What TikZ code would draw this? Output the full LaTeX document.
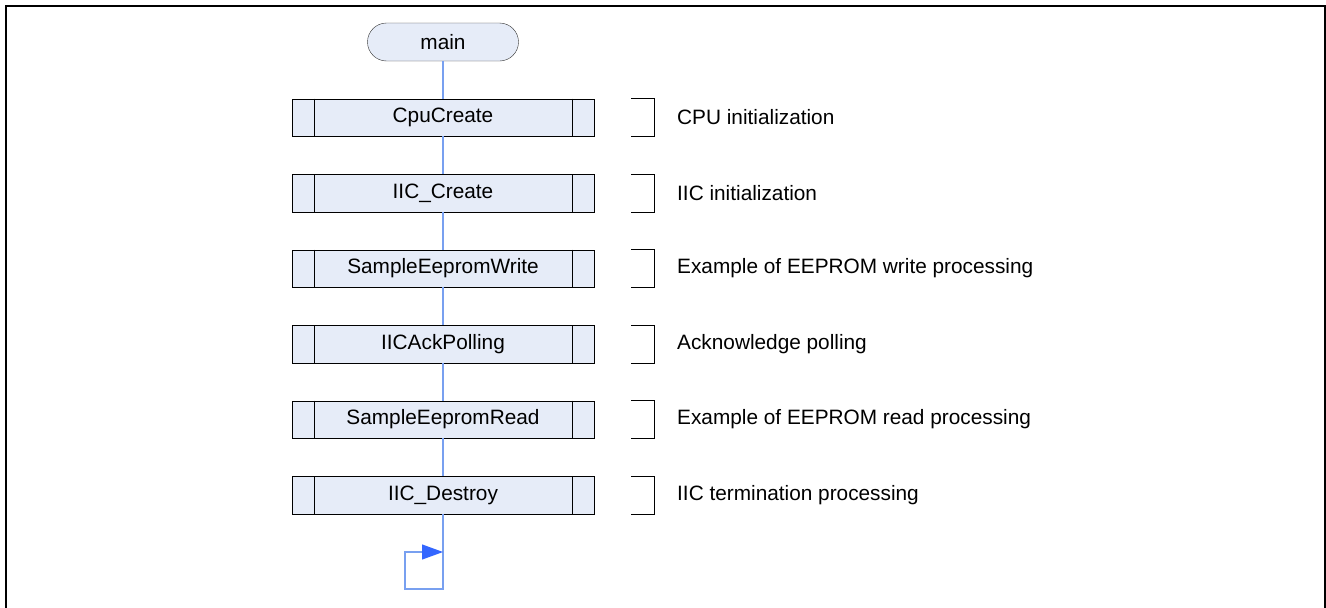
\documentclass[tikz,border=0pt]{standalone}
\usepackage{fontspec}
\setmainfont{Liberation Sans}
\usetikzlibrary{arrows.meta}

\definecolor{boxfill}{RGB}{230,236,248}
\definecolor{flowline}{RGB}{120,160,240}
\definecolor{tipblue}{RGB}{51,102,255}

\begin{document}
\begin{tikzpicture}[x=1pt, y=-1pt,
		every node/.style={font=\fontsize{20.8}{24}\selectfont},
		callbox/.style={draw=black, fill=boxfill, minimum width=302pt, minimum height=37.5pt, inner sep=0pt},
		termbox/.style={draw=black!80, fill=boxfill, rounded corners=19pt, minimum width=151pt, minimum height=38pt, inner sep=0pt},
		note/.style={anchor=west, inner sep=0pt},
		flow/.style={draw=flowline, line width=1.1pt}]
					\useasboundingbox (0,0) rectangle (1326,608);
					\draw[line width=2.2pt] (6,612) -- (6,6) -- (1325,6) -- (1325,612);
					
					\node[termbox] (main) at (443,42) {main};
					
					\foreach \name/\txt/\desc [count=\i from 0] in {cpu/CpuCreate/CPU initialization,
							iicc/IIC\_Create/IIC initialization,
							wr/SampleEepromWrite/Example of EEPROM write processing,
							ack/IICAckPolling/Acknowledge polling,
							rd/SampleEepromRead/Example of EEPROM read processing,
							iicd/IIC\_Destroy/IIC termination processing} {
						\node[callbox] (\name) at (443,117.5+75.5*\i) {\txt};
						\draw ([xshift=22.5pt]\name.north west) -- ([xshift=22.5pt]\name.south west);
						\draw ([xshift=-22.5pt]\name.north east) -- ([xshift=-22.5pt]\name.south east);
						\node[note] (\name-note) at (677,117.5+75.5*\i) {\desc};
						\draw ([xshift=-46pt]\name-note.west |- \name.north) -- ([xshift=-23pt]\name-note.west |- \name.north)
							-- ([xshift=-23pt]\name-note.west |- \name.south) -- ([xshift=-46pt]\name-note.west |- \name.south);
					}
					
					\draw[flow] (main) -- (cpu);
					\draw[flow] (cpu) -- (iicc);
					\draw[flow] (iicc) -- (wr);
					\draw[flow] (wr) -- (ack);
					\draw[flow] (ack) -- (rd);
					\draw[flow] (rd) -- (iicd);
					
					% endless loop
					\coordinate (loopend) at (443,589);
					\coordinate (loopin) at (443,552);
					\draw[flow] (iicd) -- (loopend) -| (405,552)
						[-{Triangle[length=21pt, width=15pt, color=tipblue]}] -- (loopin);
				\end{tikzpicture}
\end{document}
